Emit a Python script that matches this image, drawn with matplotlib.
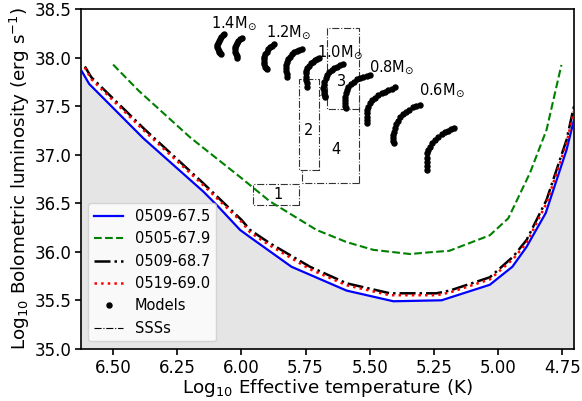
import matplotlib
matplotlib.use("Agg")
import matplotlib.pyplot as plt
from matplotlib.lines import Line2D
from matplotlib.patches import Rectangle

# detection limit curves (log T, log L)
t_675 = [6.625, 6.593, 6.382, 6.148, 6.09, 6.005, 5.966, 5.805, 5.59, 5.408,
         5.22, 5.032, 4.944, 4.889, 4.814, 4.733, 4.704]
l_675 = [37.875, 37.73, 37.17, 36.62, 36.465, 36.225, 36.15, 35.846, 35.6, 35.49,
         35.50, 35.66, 35.846, 36.05, 36.40, 37.05, 37.36]

t_679 = [6.5, 6.40, 6.20, 6.0, 5.889, 5.707, 5.59, 5.486, 5.343, 5.266,
         5.19, 5.032, 4.96, 4.876, 4.811, 4.753]
l_679 = [37.93, 37.66, 37.18, 36.76, 36.52, 36.225, 36.10, 36.02, 35.977, 35.995,
         36.01, 36.17, 36.345, 36.81, 37.256, 37.926]

t_687 = [6.61, 6.585, 6.38, 6.15, 6.0, 5.966, 5.889, 5.733, 5.59, 5.421,
         5.24, 5.188, 5.032, 4.941, 4.889, 4.811, 4.733, 4.704]
l_687 = [37.91, 37.80, 37.27, 36.71, 36.33, 36.225, 36.088, 35.846, 35.675, 35.572,
         35.572, 35.60, 35.737, 35.95, 36.12, 36.534, 37.153, 37.50]

t_690 = t_687
l_690 = [37.90, 37.78, 37.25, 36.69, 36.31, 36.20, 36.065, 35.82, 35.655, 35.552,
         35.552, 35.58, 35.715, 35.925, 36.09, 36.50, 37.12, 37.45]

# model tracks, two per mass
tracks_t = [
    [6.067, 6.073, 6.079, 6.084, 6.088, 6.091, 6.094, 6.094, 6.092, 6.089, 6.086, 6.082, 6.079],
    [5.999, 6.006, 6.012, 6.017, 6.021, 6.023, 6.025, 6.024, 6.022, 6.019, 6.016],
    [5.873, 5.881, 5.889, 5.896, 5.902, 5.907, 5.911, 5.912, 5.912, 5.910, 5.907, 5.904, 5.902],
    [5.765, 5.775, 5.785, 5.795, 5.804, 5.812, 5.820, 5.824, 5.828, 5.827, 5.826, 5.824, 5.821],
    [5.697, 5.705, 5.713, 5.722, 5.730, 5.737, 5.743, 5.747, 5.750, 5.749, 5.748, 5.746, 5.743],
    [5.603, 5.615, 5.627, 5.638, 5.648, 5.657, 5.666, 5.672, 5.677, 5.679, 5.681, 5.680,
     5.678, 5.676, 5.674],
    [5.499, 5.512, 5.525, 5.538, 5.551, 5.563, 5.574, 5.583, 5.590, 5.594, 5.597, 5.597,
     5.597, 5.596, 5.594],
    [5.402, 5.415, 5.428, 5.441, 5.454, 5.467, 5.480, 5.490, 5.499, 5.505, 5.510, 5.511,
     5.512, 5.511, 5.510],
    [5.305, 5.318, 5.331, 5.345, 5.359, 5.371, 5.382, 5.390, 5.398, 5.402, 5.406, 5.408,
     5.409, 5.408, 5.406],
    [5.171, 5.183, 5.194, 5.207, 5.220, 5.233, 5.246, 5.256, 5.266, 5.271, 5.276, 5.277,
     5.278, 5.278, 5.277],
]
tracks_l = [
    [38.245, 38.232, 38.218, 38.197, 38.176, 38.154, 38.132, 38.111, 38.091, 38.074, 38.057,
     38.046, 38.036],
    [38.207, 38.191, 38.176, 38.154, 38.132, 38.110, 38.088, 38.063, 38.039, 38.017, 37.995],
    [38.139, 38.124, 38.108, 38.086, 38.063, 38.037, 38.011, 37.985, 37.96, 37.934, 37.908,
     37.896, 37.885],
    [38.091, 38.082, 38.073, 38.057, 38.039, 38.013, 37.985, 37.956, 37.926, 37.897, 37.867,
     37.833, 37.799],
    [37.995, 37.986, 37.977, 37.961, 37.943, 37.918, 37.892, 37.866, 37.840, 37.806, 37.771,
     37.737, 37.702],
    [37.933, 37.921, 37.908, 37.891, 37.874, 37.849, 37.823, 37.789, 37.754, 37.720, 37.686,
     37.657, 37.627, 37.610, 37.593],
    [37.823, 37.814, 37.805, 37.792, 37.778, 37.755, 37.730, 37.700, 37.668, 37.634, 37.599,
     37.565, 37.531, 37.505, 37.479],
    [37.696, 37.682, 37.668, 37.651, 37.634, 37.612, 37.589, 37.560, 37.531, 37.497, 37.462,
     37.428, 37.393, 37.362, 37.331],
    [37.513, 37.502, 37.49, 37.467, 37.444, 37.416, 37.387, 37.353, 37.318, 37.278, 37.238,
     37.204, 37.17, 37.145, 37.119],
    [37.279, 37.264, 37.248, 37.230, 37.211, 37.182, 37.153, 37.118, 37.083, 37.049, 37.015,
     36.972, 36.929, 36.886, 36.843],
]

mass_labels = [r"1.4M$_{\odot}$", r"1.2M$_{\odot}$", r"1.0M$_{\odot}$",
               r"0.8M$_{\odot}$", r"0.6M$_{\odot}$"]
mass_t = [6.03, 5.815, 5.616, 5.414, 5.219]
mass_l = [38.36, 38.266, 38.06, 37.905, 37.668]

# SSS boxes: (Tmin, Tmax, Lmin, Lmax), drawn in this order
box_names = ["4", "1", "2", "3"]
box_t = [(5.54, 5.763), (5.775, 5.955), (5.697, 5.776), (5.54, 5.665)]
box_l = [(36.71, 37.617), (36.483, 36.70), (36.843, 37.78), (37.469, 38.304)]
box_label_t = [5.63, 5.857, 5.737, 5.608]
box_label_l = [37.05, 36.59, 37.25, 37.76]

fig = plt.figure(figsize=(5.82, 4.01), dpi=100)
ax = fig.add_axes([0.1392, 0.1302, 0.847, 0.8466])

ax.fill_between(t_675, l_675, 35.0, color="#e5e5e5", zorder=0, lw=0)

for (t0, t1), (l0, l1), name, tx, ly in zip(box_t, box_l, box_names,
                                             box_label_t, box_label_l):
    ax.add_patch(Rectangle((t0, l0), t1 - t0, l1 - l0, facecolor="white",
                           edgecolor="#333333", linestyle="-.", lw=0.8, zorder=1))
    ax.text(tx, ly, name, ha="center", va="center", fontsize=10.5, zorder=1.5)

ax.plot(t_675, l_675, color="blue", lw=1.6, zorder=3)
ax.plot(t_679, l_679, color="green", ls="--", lw=1.5, zorder=3)
ax.plot(t_687, l_687, color="black", ls="-.", lw=1.8, zorder=3)
ax.plot(t_690, l_690, color="red", ls=":", lw=1.8, zorder=3)

for tt, ll in zip(tracks_t, tracks_l):
    ax.plot(tt, ll, "o", color="black", ms=3.6, zorder=4)

for lab, tx, ly in zip(mass_labels, mass_t, mass_l):
    ax.text(tx, ly, lab, ha="center", va="center", fontsize=10.5, zorder=5)

ax.set_xlim(6.625, 4.704)
ax.set_ylim(35.0, 38.5)
ax.set_xticks([6.5, 6.25, 6.0, 5.75, 5.5, 5.25, 5.0, 4.75])
ax.set_xticklabels(["6.50", "6.25", "6.00", "5.75", "5.50", "5.25", "5.00", "4.75"])
ax.set_yticks([35.0, 35.5, 36.0, 36.5, 37.0, 37.5, 38.0, 38.5])
ax.set_yticklabels(["35.0", "35.5", "36.0", "36.5", "37.0", "37.5", "38.0", "38.5"])
ax.tick_params(labelsize=12, length=4.5, width=1.2, pad=2.5)
for sp in ax.spines.values():
    sp.set_linewidth(1.2)

ax.set_xlabel(r"Log$_{10}$ Effective temperature (K)", fontsize=13.2, labelpad=0)
ax.set_ylabel(r"Log$_{10}$ Bolometric luminosity (erg s$^{-1}$)", fontsize=13.2,
              labelpad=2)

handles = [
    Line2D([], [], color="blue", lw=1.6, label="0509-67.5"),
    Line2D([], [], color="green", ls="--", lw=1.5, label="0505-67.9"),
    Line2D([], [], color="black", ls="-.", lw=1.8, label="0509-68.7"),
    Line2D([], [], color="red", ls=":", lw=1.8, label="0519-69.0"),
    Line2D([], [], color="black", marker="o", ls="none", ms=3.6, label="Models"),
    Line2D([], [], color="black", ls="-.", lw=0.8, label="SSSs"),
]
ax.legend(handles=handles, loc="lower left", fontsize=10.5)

fig.savefig("out.png", dpi=100)
